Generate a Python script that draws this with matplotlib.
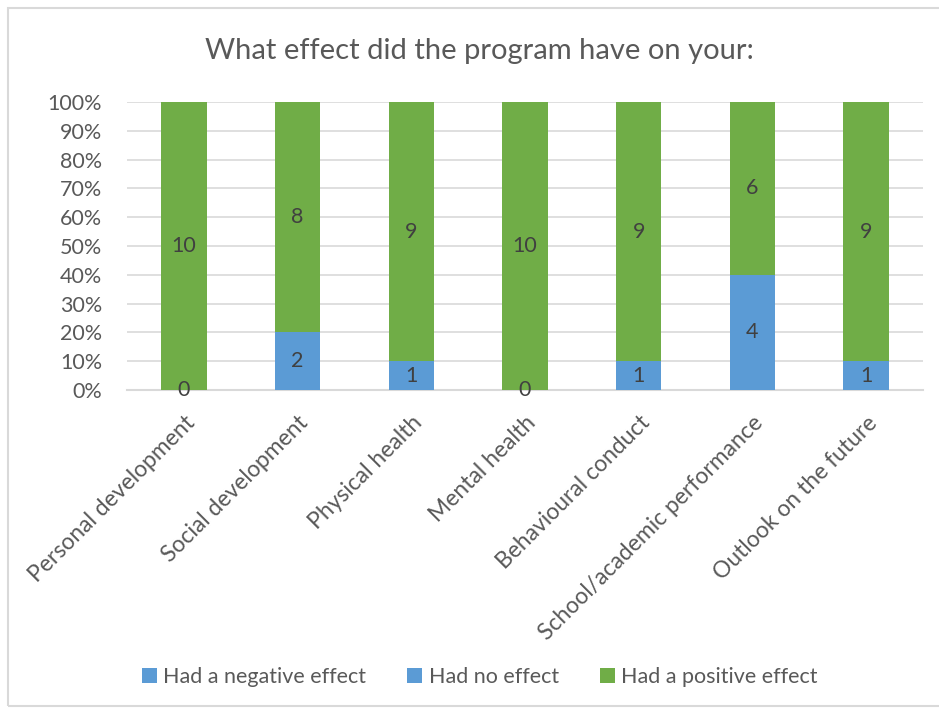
import numpy as np
import matplotlib.pyplot as plt
from matplotlib.patches import Rectangle
from matplotlib.ticker import PercentFormatter

categories = ['Personal development', 'Social development', 'Physical health',
              'Mental health', 'Behavioural conduct', 'School/academic performance',
              'Outlook on the future']
negative = [0, 0, 0, 0, 0, 0, 0]
no_effect = [0, 2, 1, 0, 1, 4, 1]
positive = [10, 8, 9, 10, 9, 6, 9]

blue = '#5B9BD5'
green = '#70AD47'
txt = '#595959'

plt.rcParams['font.family'] = ['Lato', 'DejaVu Sans']

fig = plt.figure(figsize=(9.39, 7.09), dpi=100)
ax = fig.add_axes([0.1353, 0.4499, 0.8477, 0.4062])

neg = np.array(negative, dtype=float)
noe = np.array(no_effect, dtype=float)
pos = np.array(positive, dtype=float)
tot = neg + noe + pos
x = np.arange(len(categories))
w = 0.4

b1 = ax.bar(x, neg / tot, w, color=blue, label='Had a negative effect', zorder=3)
b2 = ax.bar(x, noe / tot, w, bottom=neg / tot, color=blue, label='Had no effect', zorder=3)
b3 = ax.bar(x, pos / tot, w, bottom=(neg + noe) / tot, color=green,
            label='Had a positive effect', zorder=3)

# data labels
for i in range(len(x)):
    y0 = neg[i] / tot[i]
    ax.text(x[i], y0 + noe[i] / tot[i] / 2, str(no_effect[i]), ha='center', va='center',
            fontsize=15.5, color='#404040', zorder=4)
    y1 = (neg[i] + noe[i]) / tot[i]
    ax.text(x[i], y1 + pos[i] / tot[i] / 2, str(positive[i]), ha='center', va='center',
            fontsize=15.5, color='#404040', zorder=4)

ax.set_xlim(-0.5, len(x) - 0.5)
ax.set_ylim(0, 1)
ax.set_yticks(np.arange(0, 1.01, 0.1))
ax.yaxis.set_major_formatter(PercentFormatter(1.0, decimals=0))
ax.grid(axis='y', color='#D9D9D9', linewidth=1.2, zorder=0)
for s in ['top', 'right', 'left']:
    ax.spines[s].set_visible(False)
ax.spines['bottom'].set_color('#D9D9D9')
ax.spines['bottom'].set_linewidth(1.5)
ax.tick_params(length=0, colors=txt, labelsize=15.5)
ax.tick_params(axis='y', pad=18)
ax.tick_params(axis='x', pad=16, labelsize=16.5)
ax.set_xticks(x)
ax.set_xticklabels(categories, rotation=45, ha='right', rotation_mode='anchor')

fig.text(0.511, 0.928, 'What effect did the program have on your:', ha='center', va='center',
         fontsize=21, color=txt)

leg = fig.legend(handles=[b1, b2, b3], loc='center', bbox_to_anchor=(0.511, 0.045), ncol=3,
                 frameon=False, fontsize=15.5, handlelength=0.7, handleheight=0.7,
                 handletextpad=0.3, columnspacing=1.9)
for t in leg.get_texts():
    t.set_color(txt)

# chart border
fig.add_artist(Rectangle((8 / 939, 3 / 709), 1.0, 1 - 11 / 709, transform=fig.transFigure,
                         fill=False, edgecolor='#D9D9D9', linewidth=1.5))

fig.savefig('out.png', dpi=100, facecolor='white')
